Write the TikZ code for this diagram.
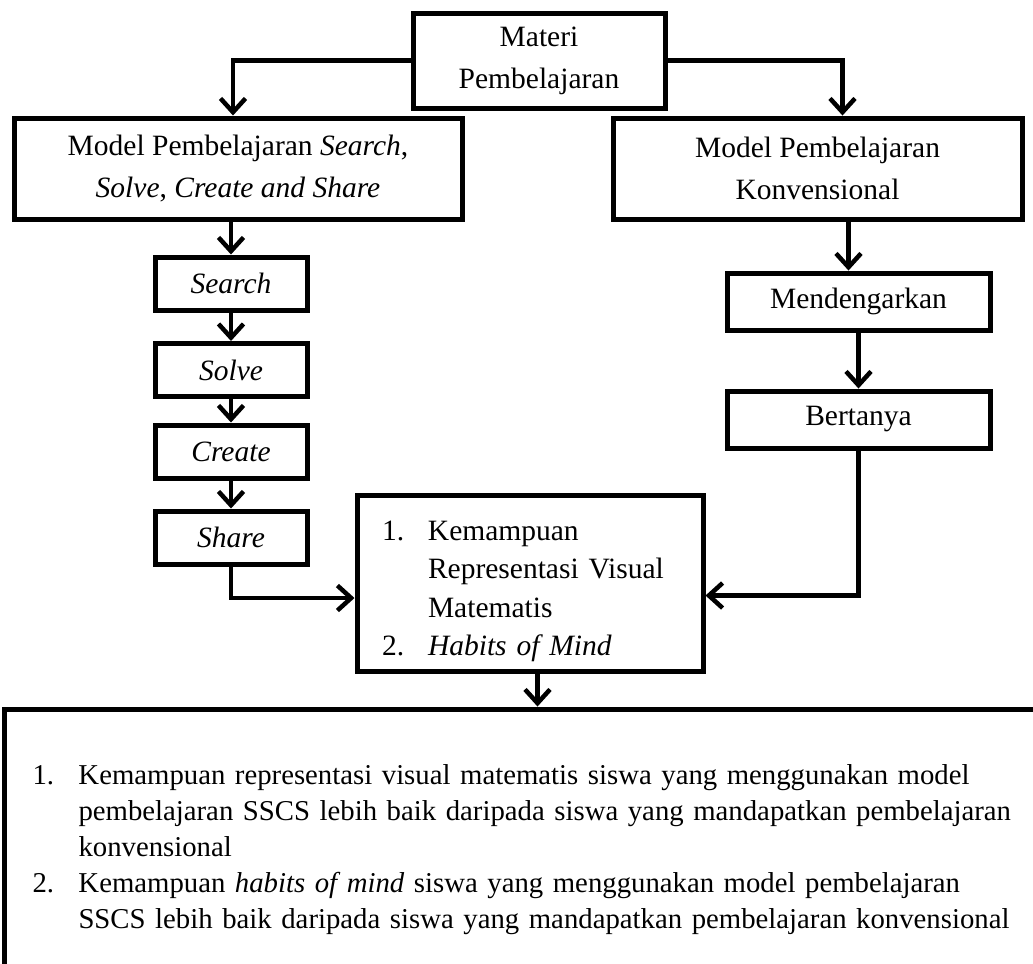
\documentclass[tikz,border=0pt]{standalone}
\usepackage{fontspec}
\setmainfont{Liberation Serif}
\usetikzlibrary{arrows.meta}
\begin{document}
\begin{tikzpicture}[x=0.4pt,y=-0.4pt,
  every node/.style={font=\fontsize{11.8pt}{15pt}\selectfont},
  bx/.style 2 args={draw, line width=2pt, minimum width=#1*0.4pt, minimum height=#2*0.4pt, inner sep=0pt, align=center},
  arr/.style={line width=1.8pt, -{Straight Barb[length=5.5pt,width=10pt]}}]
\useasboundingbox (0,0) rectangle (1033,963);
\clip (0,0) rectangle (1033,963);
% boxes
\node[bx={252}{95}, font=\fontsize{11.8pt}{15.2pt}\selectfont] (mat) at (539,60.5) {Materi\\[1.5pt]Pembelajaran};
\node[bx={448}{101}, font=\fontsize{11.8pt}{16.6pt}\selectfont] (lm) at (238,168.5) {Model Pembelajaran \textit{Search},\\\textit{Solve}, \textit{Create and Share}};
\node[bx={409}{101}, font=\fontsize{11.8pt}{16.6pt}\selectfont] (rm) at (817.5,168.5) {Model Pembelajaran\\Konvensional};
\node[bx={152}{53}] (search) at (231,283.5) {\textit{Search}};
\node[bx={152}{53}] (solve) at (231,370) {\textit{Solve}};
\node[bx={152}{53}] (create) at (231,451.5) {\textit{Create}};
\node[bx={152}{53}] (share) at (231,537.5) {\textit{Share}};
\node[bx={263}{57}] (mend) at (858.5,301.5) {Mendengarkan};
\node[bx={263}{57}] (bert) at (858.5,419.5) {Bertanya};
\node[draw, line width=2pt, text width=118.4pt, inner xsep=10pt, inner ysep=0pt, minimum height=70.4pt, align=left,
      font=\fontsize{11.8pt}{15.3pt}\selectfont] (kem) at (530,583)
  {\rule{0pt}{14.5pt}\makebox[18.4pt][l]{1.}Kemampuan\\
   \hspace*{18.4pt}Representasi Visual\\
   \hspace*{18.4pt}Matematis\\
   \makebox[18.4pt][l]{2.}\textit{Habits of Mind}};
\node[draw, line width=2pt, anchor=north west, text width=395.6pt, inner xsep=11.2pt, inner ysep=22.3pt, align=left,
      font=\fontsize{11.5pt}{14.4pt}\selectfont] (hasil) at (2,706.5)
  {\makebox[18.4pt][l]{1.}Kemampuan representasi visual matematis siswa yang menggunakan model\\
   \hspace*{18.4pt}pembelajaran SSCS lebih baik daripada siswa yang mandapatkan pembelajaran\\
   \hspace*{18.4pt}konvensional\\
   \makebox[18.4pt][l]{2.}Kemampuan \textit{habits of mind} siswa yang menggunakan model pembelajaran\\
   \hspace*{18.4pt}SSCS lebih baik daripada siswa yang mandapatkan pembelajaran konvensional};
% connectors
\draw[arr] (mat.west) -| ([xshift=-2pt]lm.north);
\draw[arr] (mat.east) -| ([xshift=10pt]rm.north);
\draw[arr] (search.north |- lm.south) -- (search.north);
\draw[arr] (search) -- (solve);
\draw[arr] (solve) -- (create);
\draw[arr] (create) -- (share);
\draw[arr] ([xshift=-4pt]mend.north |- rm.south) -- ([xshift=-4pt]mend.north);
\draw[arr] (mend) -- (bert);
\draw[arr] (bert.south) |- ([yshift=-5pt]kem.east);
\draw[arr] (share.south) |- ([yshift=-6pt]kem.west);
\draw[arr] ([xshift=3pt]kem.south) -- ([xshift=3pt]kem.south |- hasil.north);
\end{tikzpicture}
\end{document}
